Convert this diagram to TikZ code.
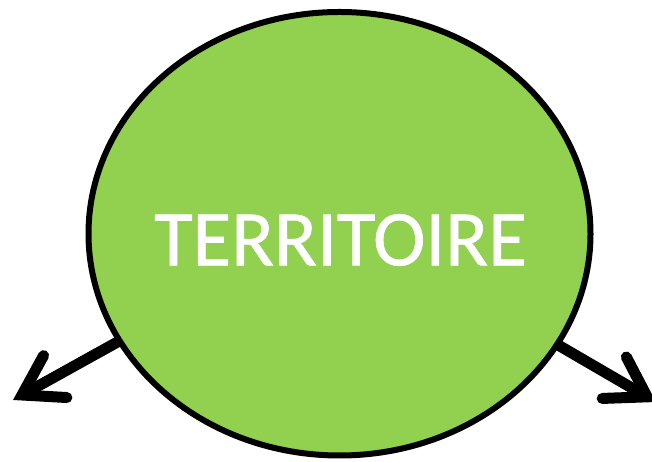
\documentclass[tikz,border=0pt]{standalone}
\usepackage{fontspec}
\setmainfont{Carlito}
\newfontfamily\heavyfont[FakeBold=0.8]{Carlito}
\usetikzlibrary{arrows.meta,positioning,shapes.geometric,backgrounds}
\definecolor{terrGreen}{HTML}{92D050}

\begin{document}
\begin{tikzpicture}[
  x=1pt,y=1pt,
  zone/.style={ellipse,draw=black,fill=terrGreen,line width=6pt,minimum width=502pt,minimum height=443.5pt,inner sep=0pt},
  title/.style={text=white,font=\heavyfont\fontsize{79}{79}\selectfont,inner sep=0pt},
  arrow/.style={-{Straight Barb[length=38pt,width=48pt,line cap=round,line join=miter]},line width=11pt,color=black}
]
\useasboundingbox (0,0) rectangle (652,462);
\coordinate (tipL) at (13,62);
\coordinate (tipR) at (656,60);
\node[zone] (terr) at (339.5,228.25) {};
\node[title] (lbl) at (340.5,222) {TERRITOIRE};
\begin{scope}[on background layer]
\draw[arrow,shorten <=-8pt] (terr.206) -- (tipL);
\draw[arrow,shorten <=-8pt] (terr.333) -- (tipR);
\end{scope}
\end{tikzpicture}
\end{document}
